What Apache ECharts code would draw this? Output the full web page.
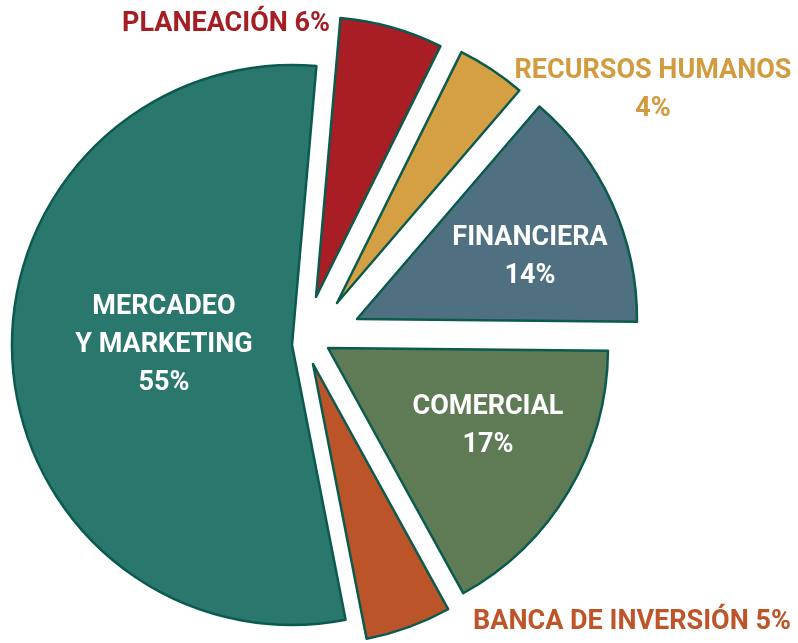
<!DOCTYPE html>
<html>
<head>
<meta charset="utf-8">
<script src="https://cdn.jsdelivr.net/npm/echarts@6/dist/echarts.min.js"></script>
<style>
  html, body { margin: 0; padding: 0; background: #ffffff; }
  #chart { width: 798px; height: 643px; }
</style>
</head>
<body>
<div id="chart"></div>
<script>
// datos del pastel (orden horario desde arriba)
var categories = ['PLANEACIÓN', 'RECURSOS HUMANOS', 'FINANCIERA', 'COMERCIAL', 'BANCA DE INVERSIÓN', 'MERCADEO\nY MARKETING'];
var values = [6, 4, 14, 17, 5, 55];

// estilo de cada porción
var sliceColors = ['#a81e24', '#d4a043', '#4f7080', '#5e7b56', '#bb5428', '#2a776d'];
var labelColors = ['#a51e24', '#d39b3f', '#ffffff', '#ffffff', '#bf5428', '#ffffff'];
var labelFormats = ['{b} {c}%', '{b}\n{c}%', '{b}\n{c}%', '{b}\n{c}%', '{b} {c}%', '{b}\n{c}%'];
// cada porción está separada del centro: vértice propio
var centers = [[316, 297], [337, 303], [357, 319], [328, 348], [313, 364], [292, 345]];
var labelPos = [[226, 24], [653, 90], [530, 257], [488, 426], [632, 622], [164, 345]];

var fontFamily = "'Liberation Sans Narrow', 'Roboto', sans-serif";

var chart = echarts.init(document.getElementById('chart'));

var series = categories.map(function (name, i) {
  return {
    type: 'pie',
    center: centers[i],
    radius: 280,
    startAngle: 85,
    clockwise: true,
    silent: true,
    animation: false,
    avoidLabelOverlap: false,
    labelLine: { show: false },
    labelLayout: { x: labelPos[i][0], y: labelPos[i][1], align: 'center', verticalAlign: 'middle' },
    data: categories.map(function (n, j) {
      var on = j === i;
      return {
        name: n,
        value: values[j],
        itemStyle: on ? {
          color: sliceColors[j],
          borderColor: '#0b5a4e',
          borderWidth: 2.5
        } : { color: 'rgba(0,0,0,0)', borderWidth: 0 },
        label: on ? {
          show: true,
          position: 'inside',
          formatter: labelFormats[j],
          color: labelColors[j],
          fontFamily: fontFamily,
          fontWeight: 'bold',
          fontSize: 27,
          lineHeight: 38,
          align: 'center'
        } : { show: false }
      };
    })
  };
});

var option = {
  backgroundColor: '#ffffff',
  series: series
};

chart.setOption(option);
</script>
</body>
</html>
